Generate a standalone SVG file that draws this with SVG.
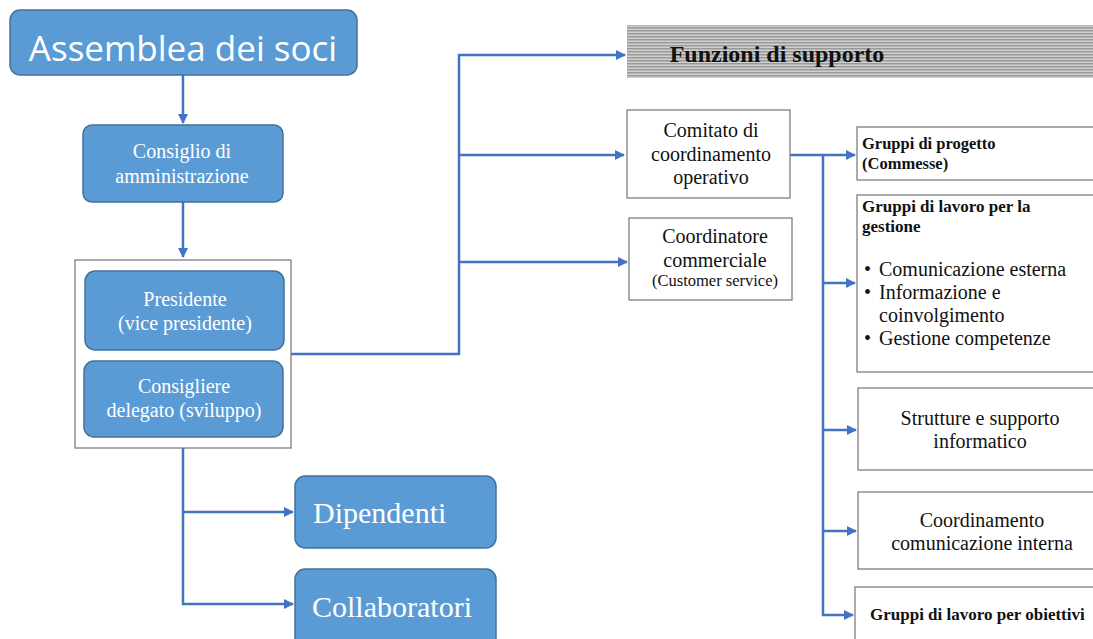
<svg xmlns="http://www.w3.org/2000/svg" width="1093" height="639" viewBox="0 0 1093 639">
<style>
.blue{fill:#5B9BD5;stroke:#41719C;stroke-width:1.5}
.wt{fill:#fff;font-family:"Liberation Serif","Times New Roman",serif;text-anchor:middle}
.wl{fill:#fff;font-family:"Liberation Serif","Times New Roman",serif;text-anchor:start}
.box{fill:#fff;stroke:#7f7f7f;stroke-width:1.3}
.bt{fill:#111;font-family:"Liberation Serif","Times New Roman",serif}
.c{text-anchor:middle}
.conn{fill:none;stroke:#4472C4;stroke-width:2.5}
</style>
<defs>
<marker id="ah" viewBox="0 0 10 10" refX="9" refY="5" markerWidth="4" markerHeight="4" orient="auto" markerUnits="strokeWidth">
<path d="M0,0 L10,5 L0,10 z" fill="#4472C4"/>
</marker>
<pattern id="stripe" width="6" height="3" patternUnits="userSpaceOnUse">
<rect width="6" height="3" fill="#d0d0d0"/>
<rect width="6" height="1.5" fill="#999"/>
</pattern>
</defs>
<rect width="1093" height="639" fill="#fff"/>
<g id="connectors">
<path class="conn" d="M183,75 V123" marker-end="url(#ah)"/>
<path class="conn" d="M183,202 V257" marker-end="url(#ah)"/>
<path class="conn" d="M291,354 H459 V55 H625" marker-end="url(#ah)"/>
<path class="conn" d="M459,155 H624" marker-end="url(#ah)"/>
<path class="conn" d="M459,262 H627" marker-end="url(#ah)"/>
<path class="conn" d="M183,448 V604 H293" marker-end="url(#ah)"/>
<path class="conn" d="M183,512 H293" marker-end="url(#ah)"/>
<path class="conn" d="M790,155 H855" marker-end="url(#ah)"/>
<path class="conn" d="M823,155 V615 H853" marker-end="url(#ah)"/>
<path class="conn" d="M823,283 H855" marker-end="url(#ah)"/>
<path class="conn" d="M823,430 H856" marker-end="url(#ah)"/>
<path class="conn" d="M823,531 H856" marker-end="url(#ah)"/>
</g>
<g id="assemblea">
<rect class="blue" x="10" y="10" width="347" height="65" rx="10"/>
<text x="183" y="61" fill="#fff" font-family="'Open Sans','Liberation Sans',sans-serif" font-size="35" text-anchor="middle">Assemblea dei soci</text>
</g>
<g id="consiglio">
<rect class="blue" x="83" y="125" width="200" height="77" rx="9"/>
<text class="wt" font-size="20"><tspan x="182" y="158">Consiglio di</tspan><tspan x="182" y="183">amministrazione</tspan></text>
</g>
<g id="gruppo-presidenza">
<rect class="box" x="75" y="260" width="216" height="188"/>
</g>
<g id="presidente">
<rect class="blue" x="85" y="271" width="199" height="79" rx="10"/>
<text class="wt" font-size="20"><tspan x="185" y="306">Presidente</tspan><tspan x="185" y="330">(vice presidente)</tspan></text>
</g>
<g id="consigliere">
<rect class="blue" x="84" y="361" width="199" height="76" rx="10"/>
<text class="wt" font-size="20"><tspan x="184" y="393">Consigliere</tspan><tspan x="184" y="417">delegato (sviluppo)</tspan></text>
</g>
<g id="dipendenti">
<rect class="blue" x="295" y="476" width="201" height="72" rx="10"/>
<text class="wl" font-size="30" x="313" y="523">Dipendenti</text>
</g>
<g id="collaboratori">
<rect class="blue" x="295" y="569" width="201" height="80" rx="10"/>
<text class="wl" font-size="30" x="312" y="617">Collaboratori</text>
</g>
<g id="funzioni">
<rect x="627" y="25" width="470" height="53" fill="url(#stripe)"/>
<text class="bt c" x="777" y="62" font-size="24" font-weight="bold">Funzioni di supporto</text>
</g>
<g id="comitato">
<rect class="box" x="627" y="110" width="163" height="88"/>
<text class="bt c" font-size="20"><tspan x="711" y="137">Comitato di</tspan><tspan x="711" y="161">coordinamento</tspan><tspan x="711" y="184">operativo</tspan></text>
</g>
<g id="coordinatore">
<rect class="box" x="629" y="218" width="163" height="82"/>
<text class="bt c" font-size="20"><tspan x="715" y="243">Coordinatore</tspan><tspan x="715" y="267">commerciale</tspan></text>
<text class="bt c" font-size="16.5" x="715" y="286">(Customer service)</text>
</g>
<g id="gruppi-progetto">
<rect class="box" x="857" y="127" width="240" height="53"/>
<text class="bt" font-size="16.5" font-weight="bold"><tspan x="862" y="149">Gruppi di progetto</tspan><tspan x="862" y="169">(Commesse)</tspan></text>
</g>
<g id="gruppi-gestione">
<rect class="box" x="857" y="195" width="240" height="177"/>
<text class="bt" font-size="17" font-weight="bold"><tspan x="862" y="212">Gruppi di lavoro per la</tspan><tspan x="862" y="232">gestione</tspan></text>
<text class="bt" font-size="20"><tspan x="864" y="276">•</tspan><tspan x="879" y="276">Comunicazione esterna</tspan><tspan x="864" y="299">•</tspan><tspan x="879" y="299">Informazione e</tspan><tspan x="879" y="322">coinvolgimento</tspan><tspan x="864" y="345">•</tspan><tspan x="879" y="345">Gestione competenze</tspan></text>
</g>
<g id="strutture">
<rect class="box" x="858" y="388" width="239" height="82"/>
<text class="bt c" font-size="20"><tspan x="980" y="425">Strutture e supporto</tspan><tspan x="980" y="448">informatico</tspan></text>
</g>
<g id="coordinamento-interno">
<rect class="box" x="858" y="492" width="239" height="77"/>
<text class="bt c" font-size="20"><tspan x="982" y="527">Coordinamento</tspan><tspan x="982" y="550">comunicazione interna</tspan></text>
</g>
<g id="gruppi-obiettivi">
<rect class="box" x="855" y="587" width="242" height="60"/>
<text class="bt" font-size="17" font-weight="bold" x="870" y="620">Gruppi di lavoro per obiettivi</text>
</g>
</svg>
